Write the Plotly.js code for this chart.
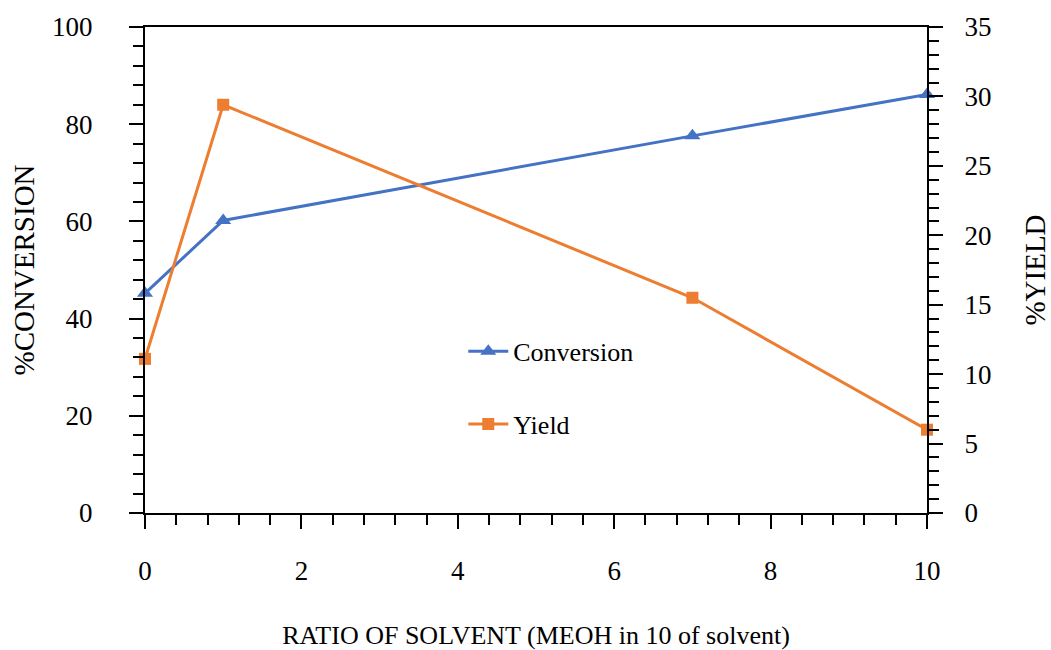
<!DOCTYPE html>
<html>
<head>
<meta charset="utf-8">
<script src="https://cdn.plot.ly/plotly-3.0.1.min.js"></script>
<style>html,body{margin:0;padding:0;background:#fff;}#chart{width:1051px;height:650px;}</style>
</head>
<body>
<div id="chart"></div>
<script>
const ratio = [0, 1, 7, 10];
const conversion = [45.2, 60.2, 77.6, 86.1];
const yieldPct = [11.1, 29.4, 15.5, 6.0];
const seriesNames = ["Conversion", "Yield"];
const xTitle = "RATIO OF SOLVENT (MEOH in 10 of solvent)";
const yTitle = "%CONVERSION";
const y2Title = "%YIELD";

const F = "Liberation Serif";
const traces = [
  {x: ratio, y: conversion, name: seriesNames[0], type: "scatter", mode: "lines+markers", cliponaxis: false,
   line: {color: "#4472C4", width: 3}, marker: {symbol: "triangle-up", size: 14, color: "#4472C4"},
   legendgroup: "a", yaxis: "y"},
  {x: ratio, y: yieldPct, name: seriesNames[1], type: "scatter", mode: "lines+markers", cliponaxis: false,
   line: {color: "#ED7D31", width: 3}, marker: {symbol: "square", size: 12, color: "#ED7D31"},
   legendgroup: "b", yaxis: "y2"}
];
const tickFont = {family: F, size: 27, color: "#000"};
const layout = {
  width: 1051, height: 650,
  margin: {l: 145, r: 124, t: 27, b: 137},
  paper_bgcolor: "#fff", plot_bgcolor: "#fff",
  font: {family: F, size: 26, color: "#000"},
  showlegend: true,
  legend: {x: 0.407, y: 0.381, xanchor: "left", yanchor: "top", bgcolor: "rgba(0,0,0,0)", itemwidth: 40,
    traceorder: "grouped", tracegroupgap: 36, font: {family: F, size: 26, color: "#000"}},
  xaxis: {range: [0, 10], dtick: 2, tick0: 0, showgrid: false, zeroline: false,
    showline: true, linecolor: "#000", linewidth: 2, mirror: true, tickfont: tickFont,
    ticks: "outside", ticklen: 14, tickwidth: 2, tickcolor: "#000", ticklabelstandoff: 19,
    minor: {dtick: 0.4, ticks: "outside", ticklen: 10, tickwidth: 2, tickcolor: "#000", showgrid: false},
    title: {text: xTitle, standoff: 40, font: {family: F, size: 26, color: "#000"}}},
  yaxis: {range: [0, 100], dtick: 20, showgrid: false, zeroline: false,
    showline: true, linecolor: "#000", linewidth: 2, tickfont: tickFont,
    ticks: "outside", ticklen: 14, tickwidth: 2, tickcolor: "#000", ticklabelstandoff: 31,
    minor: {dtick: 4, ticks: "outside", ticklen: 10, tickwidth: 2, tickcolor: "#000", showgrid: false},
    title: {text: yTitle, standoff: 9, font: {family: F, size: 29, color: "#000"}}},
  yaxis2: {range: [0, 35], dtick: 5, overlaying: "y", side: "right", showgrid: false, zeroline: false,
    showline: true, linecolor: "#000", linewidth: 2, tickfont: tickFont,
    ticks: "outside", ticklen: 14, tickwidth: 2, tickcolor: "#000", ticklabelstandoff: 16,
    minor: {dtick: 1, ticks: "outside", ticklen: 10, tickwidth: 2, tickcolor: "#000", showgrid: false},
    title: {text: y2Title, standoff: 34, font: {family: F, size: 29, color: "#000"}}}
};
Plotly.newPlot("chart", traces, layout, {displayModeBar: false, staticPlot: true});
</script>
</body>
</html>
